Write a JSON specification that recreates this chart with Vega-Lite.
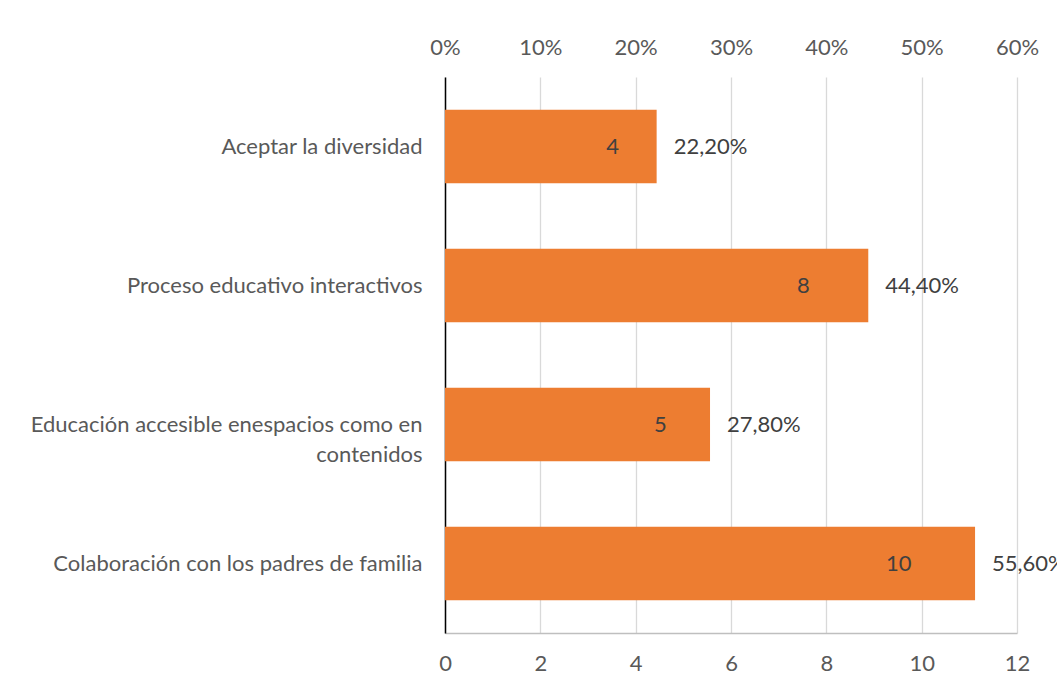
{
  "$schema": "https://vega.github.io/schema/vega-lite/v6.json",
  "width": 572,
  "height": 556,
  "autosize": {"type": "none"},
  "padding": {"left": 445, "top": 77, "right": 40, "bottom": 53},
  "background": "white",
  "config": {
    "font": "Lato",
    "view": {"stroke": null},
    "locale": {"number": {"decimal": ",", "thousands": ".", "grouping": [3], "currency": ["", "€"]}},
    "axis": {"labelFont": "Lato", "labelFontSize": 22, "labelColor": "#595959", "ticks": false, "title": null, "labelFlush": false, "labelOverlap": false}
  },
  "data": {
    "values": [
      {"cat": "Aceptar la diversidad", "n": 4, "pct": 0.222},
      {"cat": "Proceso educativo interactivos", "n": 8, "pct": 0.444},
      {"cat": "Educación accesible enespacios como en contenidos", "n": 5, "pct": 0.278},
      {"cat": "Colaboración con los padres de familia", "n": 10, "pct": 0.556}
    ]
  },
  "encoding": {
    "y": {
      "field": "cat",
      "type": "nominal",
      "sort": null,
      "scale": {"paddingInner": 0.47, "paddingOuter": 0.235},
      "axis": {
        "labelPadding": 23,
        "labelLimit": 500,
        "labelLineHeight": 30,
        "domainColor": "#000000",
        "domainWidth": 1.5,
        "labelExpr": "datum.label == 'Educación accesible enespacios como en contenidos' ? ['Educación accesible enespacios como en', 'contenidos'] : datum.label",
        "encode": {
          "labels": {
            "update": {
              "align": {"signal": "datum.value == 'Educación accesible enespacios como en contenidos' ? 'center' : 'right'"},
              "dx": {"signal": "datum.value == 'Educación accesible enespacios como en contenidos' ? -195 : 0"}
            }
          }
        }
      }
    }
  },
  "layer": [
    {
      "layer": [
        {
          "mark": {"type": "bar", "color": "#ED7D31"},
          "encoding": {
            "x": {
              "field": "pct",
              "type": "quantitative",
              "scale": {"domain": [0, 0.6], "nice": false},
              "axis": {
                "orient": "top",
                "format": ".0%",
                "values": [0, 0.1, 0.2, 0.3, 0.4, 0.5, 0.6],
                "grid": true,
                "gridColor": "#d9d9d9",
                "gridWidth": 1.3,
                "domain": false,
                "labelPadding": 18
              }
            }
          }
        },
        {
          "mark": {"type": "text", "align": "left", "dx": 17, "fontSize": 22, "color": "#404040", "font": "Lato"},
          "encoding": {
            "x": {"field": "pct", "type": "quantitative"},
            "text": {"field": "pct", "type": "quantitative", "format": ".2%"}
          }
        }
      ]
    },
    {
      "mark": {"type": "text", "align": "center", "dx": -23, "fontSize": 22, "color": "#404040", "font": "Lato"},
      "encoding": {
        "x": {
          "field": "n",
          "type": "quantitative",
          "scale": {"domain": [0, 12], "nice": false},
          "axis": {
            "orient": "bottom",
            "values": [0, 2, 4, 6, 8, 10, 12],
            "grid": false,
            "domainColor": "#bfbfbf",
            "domainWidth": 1.5,
            "labelPadding": 20
          }
        },
        "text": {"field": "n", "type": "quantitative"}
      }
    }
  ],
  "resolve": {"scale": {"x": "independent"}}
}
